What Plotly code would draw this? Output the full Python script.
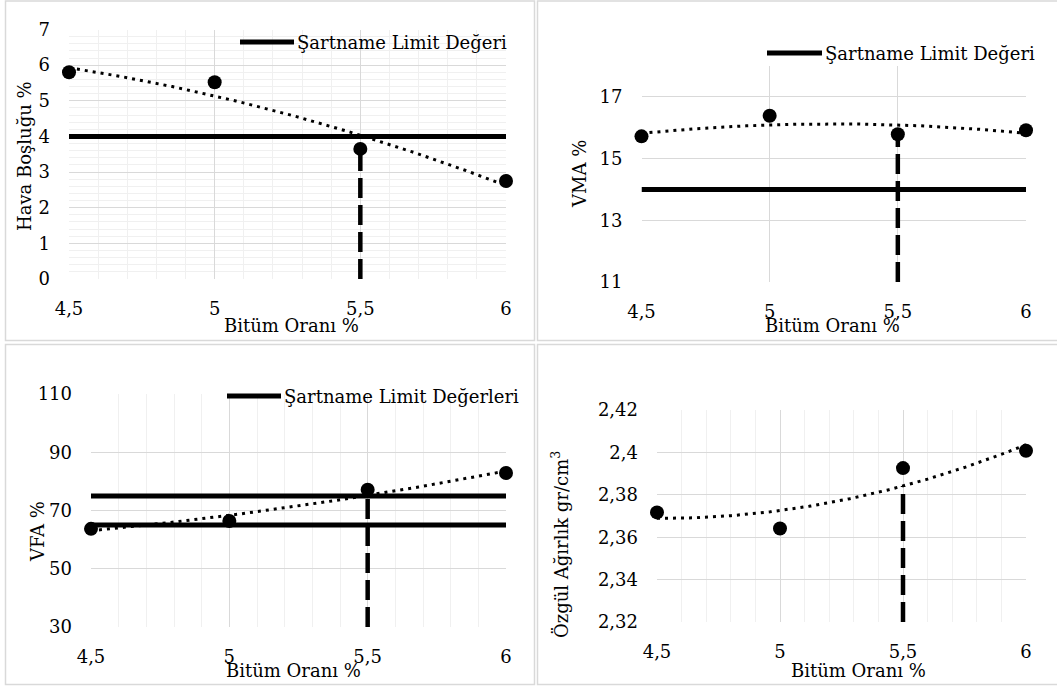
import numpy as np
import plotly.graph_objects as go

# ---------------- data ----------------
bitum = [4.5, 5.0, 5.5, 6.0]
x_tick_vals = [4.5, 5.0, 5.5, 6.0]
x_tick_text = ["4,5", "5", "5,5", "6"]

hava = [5.80, 5.52, 3.65, 2.75]
vma = [15.72, 16.39, 15.79, 15.92]
vfa = [63.7, 66.4, 77.1, 82.9]
ozgul = [2.3717, 2.3641, 2.3926, 2.4008]

hava_limit = [4]
vma_limit = [14]
vfa_limits = [65, 75]

optimum_bitum = 5.5
hava_opt = [0, 3.62]
vma_opt = [11, 15.75]
vfa_opt = [30, 77.0]
ozgul_opt = [2.32, 2.3841]

hava_yticks = [0, 1, 2, 3, 4, 5, 6, 7]
hava_ytext = ["0", "1", "2", "3", "4", "5", "6", "7"]
vma_yticks = [11, 13, 15, 17]
vma_ytext = ["11", "13", "15", "17"]
vfa_yticks = [30, 50, 70, 90, 110]
vfa_ytext = ["30", "50", "70", "90", "110"]
ozgul_yticks = [2.32, 2.34, 2.36, 2.38, 2.40, 2.42]
ozgul_ytext = ["2,32", "2,34", "2,36", "2,38", "2,4", "2,42"]

x_title = "Bitüm Oranı %"
y_titles = ["Hava Boşluğu %", "VMA %", "VFA %", "Özgül Ağırlık gr/cm<sup>3</sup>"]
legend_texts = ["Şartname Limit Değeri", "Şartname Limit Değeri", "Şartname Limit Değerleri"]

# ---------------- layout helpers (pixels -> paper) ----------------
W, H = 1057, 687
FONT = "DejaVu Serif"
FS = 18


def px(p):
    return p / W


def py(p):
    return 1 - p / H


panels = [
    # plot-area edges in pixels
    dict(xl=69, xr=506, yt=29.5, yb=279),
    dict(xl=641.5, xr=1026, yt=66, yb=282),
    dict(xl=91, xr=506, yt=394, yb=627),
    dict(xl=657, xr=1026, yt=410, yb=622),
]

fig = go.Figure()

series = [hava, vma, vfa, ozgul]
limits = [hava_limit, vma_limit, vfa_limits, []]
opts = [hava_opt, vma_opt, vfa_opt, ozgul_opt]
yranges = [[0, 7], [11, 18], [30, 110], [2.32, 2.42]]
yticks = [(hava_yticks, hava_ytext), (vma_yticks, vma_ytext),
          (vfa_yticks, vfa_ytext), (ozgul_yticks, ozgul_ytext)]
yminor = [0.2, None, None, None]

for i, (yv, lims, opt) in enumerate(zip(series, limits, opts)):
    sfx = "" if i == 0 else str(i + 1)
    xa, ya = "x" + sfx, "y" + sfx

    # polynomial (order 2) trendline, as in the original spreadsheet chart
    coef = np.polyfit(bitum, yv, 2)
    xt = np.linspace(bitum[0], bitum[-1], 200)
    fig.add_trace(go.Scatter(x=xt, y=np.polyval(coef, xt), mode="lines",
                             line=dict(color="black", width=3, dash="3px,5px"),
                             xaxis=xa, yaxis=ya, hoverinfo="skip", cliponaxis=False))
    for L in lims:
        fig.add_trace(go.Scatter(x=[bitum[0], bitum[-1]], y=[L, L], mode="lines",
                                 line=dict(color="black", width=5),
                                 xaxis=xa, yaxis=ya, name=legend_texts[min(i, 2)],
                                 cliponaxis=False))
    fig.add_trace(go.Scatter(x=[optimum_bitum, optimum_bitum], y=opt, mode="lines",
                             line=dict(color="black", width=4.5, dash="20px,7px"),
                             xaxis=xa, yaxis=ya, cliponaxis=False))
    fig.add_trace(go.Scatter(x=bitum, y=yv, mode="markers",
                             marker=dict(color="black", size=14),
                             xaxis=xa, yaxis=ya, cliponaxis=False))

    p = panels[i]
    xkey = "xaxis" + sfx
    ykey = "yaxis" + sfx
    xminor = dict(dtick=0.1, tick0=4.5, showgrid=True, gridcolor="#f0f0f0", gridwidth=1) \
        if i != 1 else dict(showgrid=False)
    fig.update_layout({
        xkey: dict(domain=[px(p["xl"]), px(p["xr"])], range=[4.5, 6],
                   anchor=ya, tickvals=x_tick_vals, ticktext=x_tick_text,
                   showgrid=True, gridcolor="#d9d9d9", gridwidth=1,
                   zeroline=False, showline=False, ticks="", automargin=False,
                   ticklabelstandoff=17, minor=xminor,
                   tickfont=dict(family=FONT, size=FS, color="black")),
        ykey: dict(domain=[py(p["yb"]), py(p["yt"])], range=yranges[i],
                   anchor=xa, tickvals=yticks[i][0], ticktext=yticks[i][1],
                   showgrid=True, gridcolor="#d9d9d9", gridwidth=1,
                   zeroline=False, showline=False, ticks="", automargin=False,
                   ticklabelstandoff=18,
                   minor=(dict(dtick=yminor[i], showgrid=True, gridcolor="#f0f0f0", gridwidth=1)
                          if yminor[i] else dict(showgrid=False)),
                   tickfont=dict(family=FONT, size=FS, color="black")),
    })

# ---------------- axis titles ----------------
xt_pos = [(291, 325), (832, 325), (293, 670), (858, 670)]
yt_pos = [(25, 156), (580, 174), (37, 532), (560, 545)]
annotations = []
for i in range(4):
    annotations.append(dict(text=x_title, x=px(xt_pos[i][0]), y=py(xt_pos[i][1]),
                            xref="paper", yref="paper", showarrow=False,
                            xanchor="center", yanchor="middle",
                            font=dict(family=FONT, size=FS, color="black")))
    annotations.append(dict(text=y_titles[i], x=px(yt_pos[i][0]), y=py(yt_pos[i][1]),
                            xref="paper", yref="paper", showarrow=False, textangle=-90,
                            xanchor="center", yanchor="middle",
                            font=dict(family=FONT, size=FS, color="black")))

# ---------------- legends (line sample + label) ----------------
leg_pos = [(240, 294, 42), (767, 822, 53), (227, 281, 396)]
shapes = []
for (x0, x1, yy), txt in zip(leg_pos, legend_texts):
    shapes.append(dict(type="line", xref="paper", yref="paper",
                       x0=px(x0), x1=px(x1), y0=py(yy), y1=py(yy),
                       line=dict(color="black", width=5)))
    annotations.append(dict(text=txt, x=px(x1 + 1), y=py(yy), xref="paper", yref="paper",
                            showarrow=False, xanchor="left", yanchor="middle",
                            font=dict(family=FONT, size=FS, color="black")))

# ---------------- chart area borders ----------------
boxes = [(5.5, 534.5, 1, 340.5), (537.5, 1070, 1, 340.5),
         (5.5, 534.5, 344.5, 684.5), (537.5, 1070, 344.5, 684.5)]
for (x0, x1, y0, y1) in boxes:
    shapes.append(dict(type="rect", xref="paper", yref="paper",
                       x0=px(x0), x1=px(x1), y0=py(y1), y1=py(y0),
                       line=dict(color="#d9d9d9", width=1.5), fillcolor="rgba(0,0,0,0)",
                       layer="below"))

fig.update_layout(width=W, height=H, margin=dict(l=0, r=0, t=0, b=0, autoexpand=False),
                  paper_bgcolor="white", plot_bgcolor="white",
                  showlegend=False, annotations=annotations, shapes=shapes,
                  font=dict(family=FONT, size=FS, color="black"),
                  separators=",.")

fig.write_html("out.html")
